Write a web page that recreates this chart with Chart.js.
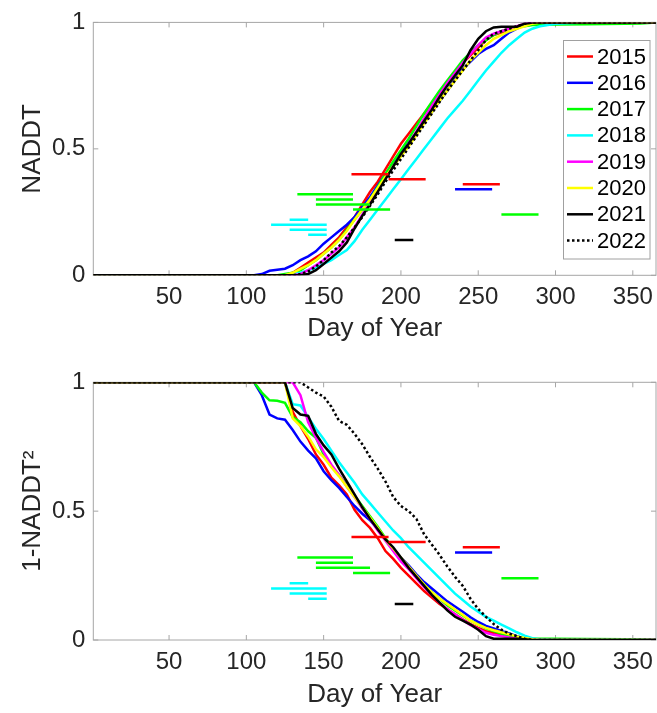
<!DOCTYPE html>
<html>
<head>
<meta charset="utf-8">
<script src="https://cdn.jsdelivr.net/npm/chart.js@4.4.1/dist/chart.umd.min.js"></script>
<style>
  body { margin: 0; background: #fff; }
  canvas { display: block; }
</style>
</head>
<body>
<canvas id="topChart" width="657" height="355"></canvas>
<canvas id="bottomChart" width="657" height="358"></canvas>
<script>
// day grid shared by every curve
const days = [1, 105, 110, 115, 120, 125, 130, 135, 140, 145, 150, 155, 160, 165, 170, 175, 180, 185, 190, 195,
  200, 205, 210, 215, 220, 225, 230, 235, 240, 245, 250, 255, 260, 265, 270, 275, 280, 285, 290, 300, 320, 345, 355, 365];

const years = ["2015", "2016", "2017", "2018", "2019", "2020", "2021", "2022"];

// NADDT (top panel)
const naddt2015 = [0,0,0,0,0,0,0.01,0.03,0.05,0.07,0.09,0.12,0.15,0.19,0.23,0.28,0.33,0.37,0.42,0.47,0.52,0.56,0.6,0.64,0.68,0.72,0.76,0.8,0.84,0.87,0.9,0.93,0.95,0.96,0.97,0.98,0.99,1,1,1,1,1,1,1];
const naddt2016 = [0,0,0.005,0.018,0.022,0.026,0.04,0.06,0.075,0.095,0.125,0.15,0.175,0.2,0.23,0.27,0.31,0.355,0.4,0.445,0.485,0.525,0.565,0.605,0.645,0.69,0.73,0.775,0.815,0.845,0.875,0.895,0.91,0.935,0.96,0.975,0.99,1,1,1,1,1,1,1];
const naddt2017 = [0,0,0,0,0,0.005,0.01,0.02,0.04,0.06,0.085,0.11,0.14,0.18,0.22,0.26,0.3,0.35,0.4,0.45,0.495,0.54,0.59,0.64,0.685,0.73,0.77,0.81,0.85,0.88,0.91,0.93,0.95,0.965,0.975,0.98,0.985,0.99,0.99,0.992,0.993,0.995,0.996,1];
const naddt2018 = [0,0,0,0,0,0,0.005,0.01,0.02,0.03,0.045,0.06,0.08,0.1,0.135,0.18,0.22,0.26,0.3,0.34,0.38,0.42,0.46,0.5,0.54,0.58,0.62,0.655,0.69,0.73,0.77,0.81,0.845,0.88,0.91,0.935,0.96,0.975,0.985,0.995,1,1,1,1];
const naddt2019 = [0,0,0,0,0,0,0,0.005,0.02,0.04,0.06,0.085,0.11,0.15,0.19,0.24,0.29,0.34,0.385,0.43,0.475,0.52,0.57,0.62,0.67,0.715,0.76,0.8,0.84,0.875,0.91,0.94,0.955,0.965,0.975,0.985,0.995,1,1,1,1,1,1,1];
const naddt2020 = [0,0,0,0,0,0,0.01,0.025,0.04,0.06,0.085,0.11,0.14,0.175,0.22,0.26,0.3,0.345,0.39,0.43,0.47,0.51,0.555,0.6,0.645,0.69,0.73,0.77,0.81,0.85,0.88,0.91,0.935,0.95,0.965,0.975,0.985,0.995,1,1,1,1,1,1];
const naddt2021 = [0,0,0,0,0,0,0,0,0.005,0.02,0.045,0.07,0.095,0.13,0.185,0.235,0.28,0.33,0.38,0.43,0.48,0.52,0.565,0.61,0.655,0.705,0.75,0.79,0.83,0.89,0.935,0.965,0.98,0.983,0.983,0.983,0.995,1,1,1,1,1,1,1];
const naddt2022 = [0,0,0,0,0,0,0,0.005,0.015,0.035,0.06,0.09,0.115,0.15,0.19,0.23,0.275,0.32,0.37,0.415,0.46,0.505,0.55,0.595,0.64,0.685,0.73,0.77,0.81,0.85,0.89,0.93,0.955,0.965,0.975,0.985,0.995,1,1,1,1,1,1,1];

// 1-NADDT^2 (bottom panel)
const inv2015 = [1,1,1,1,1,1,0.885,0.83,0.78,0.72,0.68,0.63,0.6,0.565,0.505,0.465,0.435,0.395,0.345,0.315,0.28,0.25,0.22,0.19,0.165,0.14,0.12,0.1,0.08,0.062,0.047,0.034,0.027,0.022,0.015,0.008,0.002,0,0,0,0,0,0,0];
const inv2016 = [1,1,0.95,0.875,0.86,0.855,0.815,0.77,0.735,0.705,0.655,0.62,0.59,0.555,0.52,0.49,0.465,0.43,0.39,0.355,0.32,0.29,0.255,0.225,0.2,0.175,0.15,0.13,0.11,0.088,0.07,0.055,0.045,0.035,0.025,0.015,0.005,0,0,0,0,0,0,0];
const inv2017 = [1,1,0.96,0.93,0.928,0.92,0.865,0.845,0.81,0.785,0.72,0.675,0.64,0.6,0.56,0.52,0.48,0.44,0.395,0.355,0.315,0.28,0.245,0.215,0.185,0.16,0.135,0.115,0.095,0.075,0.06,0.045,0.035,0.025,0.015,0.01,0.008,0.006,0.005,0.005,0.004,0.003,0.002,0];
const inv2018 = [1,1,1,1,1,1,0.915,0.91,0.865,0.82,0.78,0.735,0.69,0.65,0.61,0.565,0.53,0.495,0.46,0.425,0.395,0.36,0.33,0.3,0.27,0.24,0.21,0.18,0.155,0.13,0.11,0.09,0.075,0.06,0.045,0.03,0.017,0.007,0.002,0,0,0,0,0];
const inv2019 = [1,1,1,1,1,1,1,0.95,0.845,0.785,0.73,0.68,0.64,0.595,0.555,0.51,0.47,0.425,0.385,0.345,0.305,0.275,0.24,0.205,0.175,0.145,0.12,0.1,0.078,0.058,0.042,0.028,0.02,0.015,0.01,0.006,0.002,0,0,0,0,0,0,0];
const inv2020 = [1,1,1,1,1,1,0.86,0.83,0.79,0.74,0.71,0.67,0.635,0.595,0.555,0.515,0.475,0.435,0.39,0.355,0.32,0.285,0.25,0.215,0.185,0.16,0.14,0.118,0.098,0.075,0.06,0.047,0.038,0.03,0.022,0.014,0.008,0.003,0,0,0,0,0,0];
const inv2021 = [1,1,1,1,1,1,0.9,0.875,0.87,0.8,0.755,0.72,0.665,0.615,0.565,0.515,0.47,0.43,0.39,0.36,0.32,0.28,0.245,0.21,0.175,0.145,0.115,0.09,0.075,0.06,0.04,0.015,0.005,0.005,0.005,0.005,0.003,0,0,0,0,0,0,0];
const inv2022 = [1,1,1,1,1,1,1,1,0.98,0.96,0.945,0.905,0.85,0.835,0.8,0.76,0.71,0.665,0.615,0.555,0.52,0.5,0.47,0.41,0.37,0.33,0.285,0.245,0.21,0.16,0.12,0.09,0.062,0.04,0.025,0.015,0.005,0,0,0,0,0,0,0];

// horizontal range markers (same in both panels)
const segStart = [168, 192, 240, 235, 133, 145, 145, 169, 265, 128, 116, 128, 140, 196];
const segEnd   = [192, 216, 264, 259, 169, 169, 180, 193, 289, 140, 152, 152, 152, 208];
const segLevel = [0.40, 0.38, 0.36, 0.34, 0.32, 0.30, 0.28, 0.26, 0.24, 0.22, 0.20, 0.18, 0.16, 0.14];
const segYear  = ["2015", "2015", "2015", "2016", "2017", "2017", "2017", "2017", "2017", "2018", "2018", "2018", "2018", "2021"];

const xTicks = [50, 100, 150, 200, 250, 300, 350];
const yTicks = [0, 0.5, 1];

const topSeries = [naddt2015, naddt2016, naddt2017, naddt2018, naddt2019, naddt2020, naddt2021, naddt2022];
const bottomSeries = [inv2015, inv2016, inv2017, inv2018, inv2019, inv2020, inv2021, inv2022];

const yearColors = {
  "2015": "#ff0000", "2016": "#0000ff", "2017": "#00ff00", "2018": "#00ffff",
  "2019": "#ff00ff", "2020": "#ffff00", "2021": "#000000", "2022": "#000000"
};
const fontFamily = "'Liberation Sans', Arial, Helvetica, sans-serif";
const textColor = "#262626";
const frameColor = "#a6a6a6";

function buildDatasets(series) {
  const sets = years.map((yr, i) => ({
    label: yr,
    data: days.map((d, k) => ({ x: d, y: series[i][k] })),
    borderColor: yearColors[yr],
    borderWidth: 2.5,
    borderDash: yr === "2022" ? [2.5, 2.5] : [],
    pointRadius: 0,
    tension: 0,
    order: years.length - i
  }));
  segLevel.forEach((lv, j) => {
    sets.push({
      label: "",
      isSegment: true,
      data: [{ x: segStart[j], y: lv }, { x: segEnd[j], y: lv }],
      borderColor: yearColors[segYear[j]],
      borderWidth: 2.5,
      borderCapStyle: "butt",
      pointRadius: 0,
      order: 0
    });
  });
  return sets;
}

// MATLAB-like box with inward ticks
const axesBox = {
  id: "axesBox",
  beforeDatasetsDraw(chart) {
    const { ctx, chartArea: a, scales } = chart;
    ctx.save();
    ctx.strokeStyle = frameColor;
    ctx.lineWidth = 1;
    ctx.strokeRect(a.left, a.top, a.right - a.left, a.bottom - a.top);
    ctx.beginPath();
    scales.x.ticks.forEach(t => {
      const px = scales.x.getPixelForValue(t.value);
      ctx.moveTo(px, a.bottom); ctx.lineTo(px, a.bottom - 5);
      ctx.moveTo(px, a.top); ctx.lineTo(px, a.top + 5);
    });
    scales.y.ticks.forEach(t => {
      const py = scales.y.getPixelForValue(t.value);
      ctx.moveTo(a.left, py); ctx.lineTo(a.left + 5, py);
      ctx.moveTo(a.right, py); ctx.lineTo(a.right - 5, py);
    });
    ctx.stroke();
    ctx.restore();
  }
};

// legend drawn inside the plot area, top right
const insideLegend = {
  id: "insideLegend",
  afterDraw(chart, args, opts) {
    if (!opts.show) return;
    const ctx = chart.ctx;
    const items = chart.data.datasets.filter(d => !d.isSegment);
    ctx.save();
    ctx.fillStyle = "#ffffff";
    ctx.fillRect(563.5, 40.5, 86.5, 218.5);
    ctx.strokeStyle = "#a0a0a0";
    ctx.lineWidth = 1;
    ctx.strokeRect(563.5, 40.5, 86.5, 218.5);
    ctx.font = "22px " + fontFamily;
    ctx.textBaseline = "middle";
    ctx.textAlign = "left";
    items.forEach((d, i) => {
      const y = 56.5 + i * 26.3;
      ctx.beginPath();
      ctx.strokeStyle = d.borderColor;
      ctx.lineWidth = 2.5;
      ctx.setLineDash(d.borderDash);
      ctx.moveTo(567, y);
      ctx.lineTo(593, y);
      ctx.stroke();
      ctx.setLineDash([]);
      ctx.fillStyle = "#000000";
      ctx.fillText(d.label, 597, y + 1);
    });
    ctx.restore();
  }
};

function makeOptions(yTitle, topPad, xHeight, titlePadBottom, showLegend) {
  return {
    responsive: false,
    animation: false,
    layout: { padding: { top: topPad, right: 1, left: 0, bottom: 0 } },
    plugins: {
      legend: { display: false },
      tooltip: { enabled: false },
      insideLegend: { show: showLegend }
    },
    scales: {
      x: {
        type: "linear",
        min: 1,
        max: 365,
        afterBuildTicks: s => { s.ticks = xTicks.map(v => ({ value: v })); },
        afterFit: s => { s.height = xHeight; s.paddingLeft = 0; s.paddingRight = 0; },
        grid: { display: false, drawTicks: false },
        border: { display: false },
        ticks: { color: textColor, padding: 8, font: { family: fontFamily, size: 24 } },
        title: {
          display: true, text: "Day of Year", color: textColor,
          padding: { top: 0, bottom: titlePadBottom },
          font: { family: fontFamily, size: 26 }
        }
      },
      y: {
        min: 0,
        max: 1,
        afterBuildTicks: s => { s.ticks = yTicks.map(v => ({ value: v })); },
        afterFit: s => { s.width = 93.3; },
        grid: { display: false, drawTicks: false },
        border: { display: false },
        ticks: { color: textColor, padding: 8, font: { family: fontFamily, size: 24 }, callback: v => String(v) },
        title: {
          display: true, text: yTitle, color: textColor,
          padding: { top: 17, bottom: 0 },
          font: { family: fontFamily, size: 26 }
        }
      }
    }
  };
}

const topChart = new Chart(document.getElementById("topChart").getContext("2d"), {
  type: "line",
  data: { datasets: buildDatasets(topSeries) },
  options: makeOptions("NADDT", 16.7, 79.7, 10.4, true),
  plugins: [axesBox, insideLegend]
});

const bottomChart = new Chart(document.getElementById("bottomChart").getContext("2d"), {
  type: "line",
  data: { datasets: buildDatasets(bottomSeries) },
  options: makeOptions("1-NADDT²", 27.3, 73, 2.8, false),
  plugins: [axesBox, insideLegend]
});
</script>
</body>
</html>
